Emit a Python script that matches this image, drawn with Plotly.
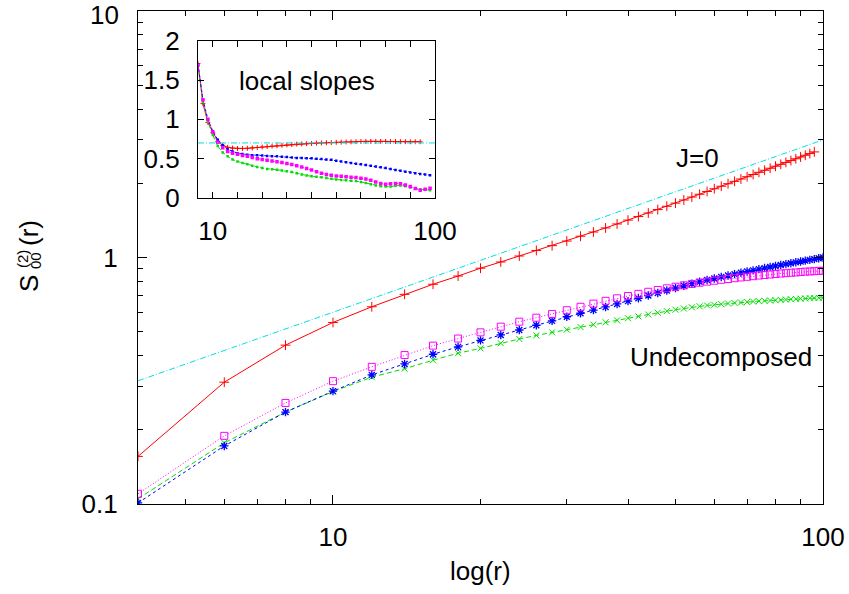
import plotly.graph_objects as go

# ---------------- data ----------------
r_all = [4, 6, 8, 10, 12, 14, 16, 18, 20, 22, 24, 26, 28, 30, 32, 34, 36, 38, 40, 42,
         44, 46, 48, 50, 52, 54, 56, 58, 60, 62, 64, 66, 68, 70, 72, 74, 76, 78, 80, 82,
         84, 86, 88, 90, 92, 94, 96, 98, 100]
r_red = r_all[:47]          # J=0 curve stops at r = 96

s_red = [0.156, 0.312, 0.441, 0.545, 0.631, 0.709, 0.779, 0.841, 0.905, 0.959,
         1.014, 1.068, 1.117, 1.166, 1.220, 1.269, 1.318, 1.368, 1.418, 1.466,
         1.515, 1.565, 1.614, 1.662, 1.711, 1.759, 1.806, 1.853, 1.900, 1.946,
         1.992, 2.037, 2.082, 2.127, 2.171, 2.215, 2.259, 2.302, 2.346, 2.388,
         2.431, 2.473, 2.515, 2.557, 2.599, 2.640, 2.681]
s_green = [0.105, 0.177, 0.236, 0.286, 0.327, 0.354, 0.383, 0.409, 0.428, 0.449,
           0.467, 0.483, 0.497, 0.510, 0.522, 0.534, 0.546, 0.556, 0.567, 0.577,
           0.587, 0.597, 0.606, 0.614, 0.621, 0.628, 0.634, 0.639, 0.643, 0.647,
           0.651, 0.654, 0.657, 0.660, 0.663, 0.665, 0.667, 0.669, 0.671, 0.673,
           0.675, 0.677, 0.679, 0.681, 0.682, 0.684, 0.685, 0.686, 0.687]
s_blue = [0.101, 0.172, 0.236, 0.287, 0.334, 0.370, 0.405, 0.434, 0.461, 0.485,
          0.508, 0.531, 0.553, 0.575, 0.594, 0.612, 0.630, 0.648, 0.665, 0.683,
          0.701, 0.718, 0.735, 0.752, 0.768, 0.783, 0.797, 0.810, 0.822, 0.834,
          0.845, 0.856, 0.867, 0.877, 0.887, 0.897, 0.906, 0.915, 0.924, 0.932,
          0.940, 0.948, 0.956, 0.963, 0.971, 0.978, 0.985, 0.993, 1.000]
s_magenta = [0.110, 0.189, 0.257, 0.315, 0.360, 0.402, 0.439, 0.469, 0.497, 0.524,
             0.549, 0.570, 0.590, 0.611, 0.631, 0.650, 0.667, 0.683, 0.698, 0.712,
             0.726, 0.738, 0.750, 0.761, 0.771, 0.781, 0.790, 0.798, 0.805, 0.812,
             0.818, 0.824, 0.830, 0.835, 0.840, 0.845, 0.849, 0.853, 0.857, 0.861,
             0.864, 0.867, 0.870, 0.873, 0.876, 0.878, 0.880, 0.882, 0.884]
fit_r = [4, 100]
fit_s = [0.316, 3.0]        # reference power law (slope 0.7)

# local slopes (inset)
ls_r = r_all[:48]           # 4 .. 98
ls_r_red = r_all[:46]       # 4 .. 94
ls_red = [1.71, 1.20, 0.96, 0.83, 0.72, 0.67, 0.645, 0.635, 0.63, 0.63,
          0.632, 0.637, 0.642, 0.648, 0.654, 0.66, 0.665, 0.67, 0.675, 0.68,
          0.685, 0.688, 0.69, 0.694, 0.698, 0.70, 0.703, 0.705, 0.708, 0.71,
          0.712, 0.714, 0.716, 0.718, 0.72, 0.72, 0.72, 0.72, 0.72, 0.718,
          0.717, 0.716, 0.716, 0.715, 0.715, 0.715]
ls_blue = [1.70, 1.25, 1.00, 0.85, 0.74, 0.67, 0.62, 0.59, 0.57, 0.56,
           0.55, 0.545, 0.545, 0.54, 0.535, 0.53, 0.53, 0.525, 0.52, 0.515,
           0.51, 0.51, 0.505, 0.505, 0.50, 0.495, 0.49, 0.485, 0.475, 0.465,
           0.455, 0.445, 0.435, 0.43, 0.42, 0.41, 0.40, 0.39, 0.38, 0.37,
           0.355, 0.345, 0.335, 0.325, 0.315, 0.305, 0.30, 0.29]
ls_magenta = [1.69, 1.25, 1.00, 0.84, 0.71, 0.64, 0.59, 0.57, 0.555, 0.54,
              0.53, 0.515, 0.50, 0.49, 0.48, 0.47, 0.46, 0.45, 0.44, 0.425,
              0.41, 0.395, 0.375, 0.355, 0.335, 0.315, 0.30, 0.29, 0.28, 0.275,
              0.27, 0.265, 0.26, 0.25, 0.24, 0.225, 0.205, 0.185, 0.175, 0.18,
              0.185, 0.18, 0.165, 0.145, 0.12, 0.10, 0.11, 0.125]
ls_green = [1.68, 1.22, 0.97, 0.80, 0.66, 0.58, 0.53, 0.49, 0.465, 0.445,
            0.43, 0.41, 0.395, 0.38, 0.37, 0.365, 0.36, 0.35, 0.34, 0.33,
            0.315, 0.30, 0.285, 0.275, 0.27, 0.265, 0.255, 0.245, 0.235, 0.23,
            0.225, 0.22, 0.215, 0.205, 0.19, 0.175, 0.16, 0.15, 0.145, 0.145,
            0.155, 0.16, 0.15, 0.135, 0.12, 0.11, 0.105, 0.10]
ls_fit_r = [4, 100]
ls_fit = [0.7, 0.7]

main_xticks = [10, 100]
main_xminor = [4, 5, 6, 7, 8, 9, 20, 30, 40, 50, 60, 70, 80, 90]
main_yticks = [0.1, 1, 10]
main_ylabels = ["0.1", "1", ""]      # top "10" is drawn as a note below
main_yminor = [0.2, 0.3, 0.4, 0.5, 0.6, 0.7, 0.8, 0.9, 2, 3, 4, 5, 6, 7, 8, 9]
ins_xticks = [10, 20, 30, 40, 50, 60, 70, 80, 90, 100]
ins_xlabels = ["10", "", "", "", "", "", "", "", "", "100"]
ins_yticks = [0, 0.5, 1, 1.5, 2]

# ---------------- colours / styles ----------------
RED, GREEN, BLUE, MAG, CYAN = "#ff0000", "#00dd00", "#0000ff", "#ff00ff", "#00e0e0"
FONT = "Liberation Sans, Arial, Helvetica, sans-serif"
FS = 26

fig = go.Figure()

# main panel
fig.add_trace(go.Scatter(x=r_red, y=s_red, mode="lines+markers",
                         line=dict(color=RED, width=1),
                         marker=dict(symbol="cross-thin", size=7, line=dict(color=RED, width=1))))
fig.add_trace(go.Scatter(x=r_all, y=s_green, mode="lines+markers",
                         line=dict(color=GREEN, width=1, dash="5px,3px"),
                         marker=dict(symbol="x-thin", size=6, line=dict(color=GREEN, width=1))))
fig.add_trace(go.Scatter(x=r_all, y=s_blue, mode="lines+markers",
                         line=dict(color=BLUE, width=1, dash="3px,3px"),
                         marker=dict(symbol="asterisk", size=7, line=dict(color=BLUE, width=1.3))))
fig.add_trace(go.Scatter(x=r_all, y=s_magenta, mode="lines+markers",
                         line=dict(color=MAG, width=1, dash="1px,2px"),
                         marker=dict(symbol="square-open", size=7, color=MAG, line=dict(color=MAG, width=1))))
fig.add_trace(go.Scatter(x=fit_r, y=fit_s, mode="lines",
                         line=dict(color=CYAN, width=1, dash="6px,2px,1px,2px")))

# inset panel
fig.add_trace(go.Scatter(x=ls_r_red, y=ls_red, mode="lines+markers", xaxis="x2", yaxis="y2",
                         line=dict(color=RED, width=1),
                         marker=dict(symbol="cross-thin", size=3.5, line=dict(color=RED, width=1))))
fig.add_trace(go.Scatter(x=ls_r, y=ls_green, mode="lines+markers", xaxis="x2", yaxis="y2",
                         line=dict(color=GREEN, width=1, dash="4px,2px"),
                         marker=dict(symbol="square", size=2.5, color=GREEN)))
fig.add_trace(go.Scatter(x=ls_r, y=ls_blue, mode="lines+markers", xaxis="x2", yaxis="y2",
                         line=dict(color=BLUE, width=1, dash="3px,2px"),
                         marker=dict(symbol="square", size=2.5, color=BLUE)))
fig.add_trace(go.Scatter(x=ls_r, y=ls_magenta, mode="lines+markers", xaxis="x2", yaxis="y2",
                         line=dict(color=MAG, width=1, dash="1px,2px"),
                         marker=dict(symbol="square", size=3.5, color=MAG)))
fig.add_trace(go.Scatter(x=ls_fit_r, y=ls_fit, mode="lines", xaxis="x2", yaxis="y2",
                         line=dict(color=CYAN, width=1, dash="6px,2px,1px,2px")))

axis_common = dict(showline=True, linecolor="black", linewidth=1.2, mirror="ticks",
                   ticks="inside", tickcolor="black", tickwidth=1, showgrid=False,
                   zeroline=False, automargin=False, ticklabeloverflow="allow",
                   tickfont=dict(family=FONT, size=FS, color="black"))

# plot area in px: x 138..823, y 11..504
W, H = 849, 594
L, R, T, B = 138, 849 - 823, 11, 594 - 504
PW, PH = 823 - 138, 504 - 11


def px(x):
    return (x - L) / PW


def py(y):
    return (504 - y) / PH


fig.update_layout(
    template="none",
    width=W, height=H, margin=dict(l=L, r=R, t=T, b=B, pad=0, autoexpand=False),
    paper_bgcolor="white", plot_bgcolor="white", showlegend=False,
    font=dict(family=FONT, size=FS, color="black"),
    xaxis=dict(type="log", range=[0.60206, 2], tickmode="array", tickvals=main_xticks,
               ticktext=["10", "100"], ticklen=9, ticklabelstandoff=10,
               minor=dict(tickmode="array", tickvals=main_xminor, ticks="inside", ticklen=5,
                          tickcolor="black", showgrid=False),
               **axis_common),
    yaxis=dict(type="log", range=[-1, 1], tickmode="array", tickvals=main_yticks,
               ticktext=main_ylabels, ticklen=9, ticklabelstandoff=14,
               minor=dict(tickmode="array", tickvals=main_yminor, ticks="inside", ticklen=5,
                          tickcolor="black", showgrid=False),
               **axis_common),
    xaxis2=dict(domain=[px(198), px(435)], anchor="y2", range=[4, 100], tickmode="array",
                tickvals=ins_xticks, ticktext=ins_xlabels, ticklen=6, ticklabelstandoff=10,
                **axis_common),
    yaxis2=dict(domain=[py(198), py(40.7)], anchor="x2", range=[0, 2], tickmode="array",
                tickvals=ins_yticks, ticktext=["0", "0.5", "1", "1.5", "2"], ticklen=6,
                ticklabelstandoff=12, **axis_common),
)

ann = [
    dict(text="10", x=px(121), y=py(15), xanchor="right"),
    dict(text="J=0", x=px(697), y=py(158)),
    dict(text="Undecomposed", x=px(721), y=py(357)),
    dict(text="local slopes", x=px(307), y=py(81)),
    dict(text="log(r)", x=px(480), y=py(571)),
    dict(text="S", x=px(29), y=py(283), textangle=-90),
    dict(text="(r)", x=px(29), y=py(233), textangle=-90),
    dict(text="(2)", x=px(22), y=py(259), textangle=-90, font=dict(size=15)),
    dict(text="00", x=px(35), y=py(261), textangle=-90, font=dict(size=15)),
]
for a in ann:
    base = dict(xref="paper", yref="paper", showarrow=False, xanchor="center",
                yanchor="middle", font=dict(family=FONT, size=FS, color="black"))
    f = a.pop("font", None)
    base.update(a)
    if f:
        base["font"] = dict(family=FONT, color="black", **f)
    fig.add_annotation(**base)

fig.write_html("out.html", config={"displayModeBar": False},
               post_script="document.body.style.margin='0px';")
